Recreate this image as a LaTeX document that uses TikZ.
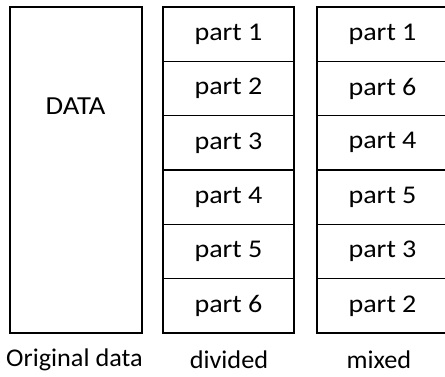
\documentclass[tikz,border=0pt]{standalone}
\usepackage{fontspec}
\setmainfont{Carlito}
% text slightly widened, as in the original artwork
\newcommand{\widetext}[1]{\scalebox{1.1}[1]{#1}}
\newcommand{\captext}[1]{\scalebox{1.03}[1]{#1}}
\begin{document}
\begin{tikzpicture}[x=1pt,y=-1pt,
  cell/.style={draw, line width=1.3pt, rectangle, minimum width=131pt,
    minimum height=54.33pt, inner sep=0pt, font=\fontsize{25.5}{30}\selectfont},
  bigbox/.style={draw, line width=1.3pt, rectangle, minimum width=132pt,
    minimum height=326pt, inner sep=0pt},
  caption/.style={font=\fontsize{25.5}{30}\selectfont, inner sep=0pt}]
\useasboundingbox (0,0) rectangle (445,376);
% original block
\node[bigbox] (orig) at (76,170) {};
\node[font=\fontsize{26}{30}\selectfont, inner sep=0pt] (datalbl) at (75.5,106.5) {\widetext{DATA}};
% divided column
\foreach \i/\t in {1/1,2/2,3/3,4/4,5/5,6/6}{
  \node[cell] (d\i) at (228.5, {7+54.33*(\i-0.5)}) {\widetext{part \t}};
}
% mixed column
\foreach \i/\t in {1/1,2/6,3/4,4/5,5/3,6/2}{
  \node[cell] (m\i) at (382.5, {7+54.33*(\i-0.5)}) {\widetext{part \t}};
}
% captions
\node[caption] (c1) at (74.5,360) {\captext{Original data}};
\node[caption] (c2) at (229,360) {\captext{divided}};
\node[caption] (c3) at (379,360) {\captext{mixed}};
\end{tikzpicture}
\end{document}
